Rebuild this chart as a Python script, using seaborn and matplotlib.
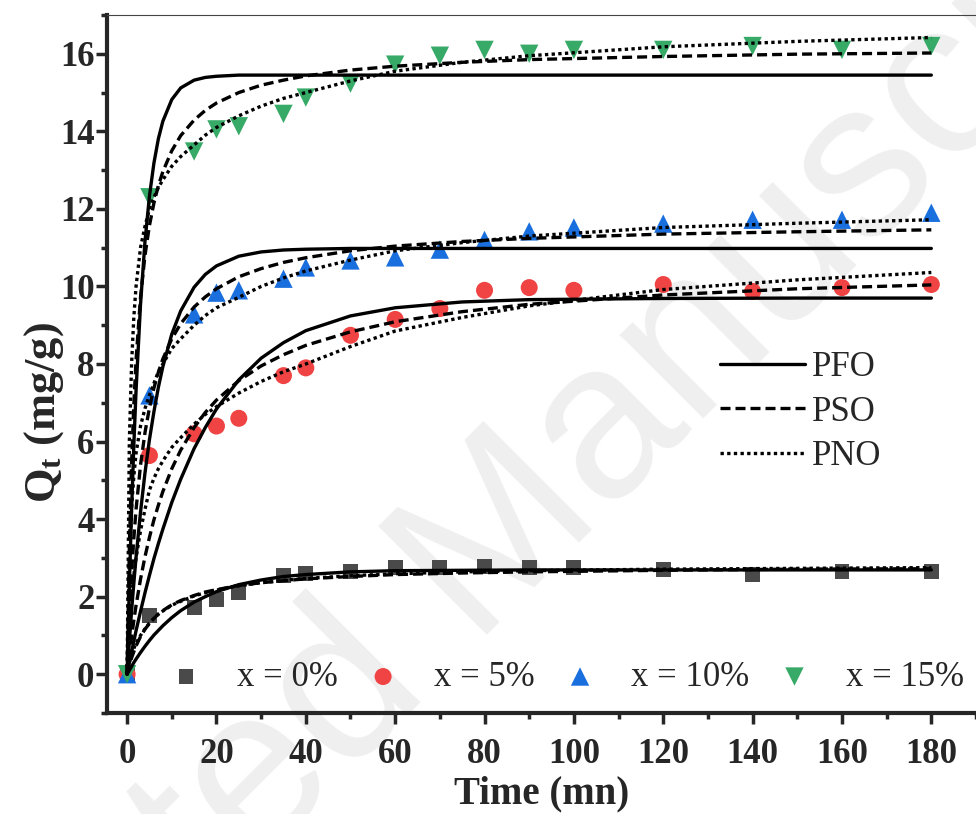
import numpy as np
import pandas as pd
import matplotlib
matplotlib.use('Agg')
import matplotlib.pyplot as plt
from matplotlib.ticker import MultipleLocator
import seaborn as sns

# experimental points
time = [0, 5, 15, 20, 25, 35, 40, 50, 60, 70, 80, 90, 100, 120, 140, 160, 180]
q0 = [0, 1.52, 1.73, 1.93, 2.11, 2.55, 2.60, 2.65, 2.76, 2.76, 2.78, 2.76, 2.76, 2.70, 2.58, 2.65, 2.65]
q5 = [0, 5.64, 6.20, 6.40, 6.60, 7.70, 7.90, 8.74, 9.15, 9.43, 9.90, 9.97, 9.90, 10.05, 9.87, 9.97, 10.05]
q10 = [0, 7.19, 9.28, 9.84, 9.90, 10.20, 10.49, 10.67, 10.75, 10.95, 11.20, 11.42, 11.52, 11.62, 11.72, 11.72, 11.90]
q15 = [0, 12.30, 13.48, 14.05, 14.13, 14.45, 14.87, 15.23, 15.72, 15.95, 16.10, 16.00, 16.10, 16.10, 16.20, 16.10, 16.20]

# fitted curves
t_fit = [0, 0.5, 1, 1.5, 2, 3, 4, 5, 6, 7, 8, 10, 12, 15, 17.5, 20, 25, 30, 35, 40, 50, 60, 75, 90, 120, 150, 180]
pfo0 = [0, 0.10, 0.20, 0.30, 0.39, 0.56, 0.72, 0.87, 1.01, 1.13, 1.25, 1.46, 1.64, 1.86, 2.00, 2.13,
        2.31, 2.43, 2.52, 2.57, 2.64, 2.67, 2.68, 2.69, 2.69, 2.69, 2.69]
pso0 = [0, 0.23, 0.42, 0.58, 0.73, 0.97, 1.16, 1.31, 1.44, 1.55, 1.64, 1.79, 1.90, 2.03, 2.12, 2.18,
        2.29, 2.36, 2.41, 2.46, 2.52, 2.57, 2.61, 2.64, 2.68, 2.71, 2.72]
pno0 = [0, 0.30, 0.50, 0.66, 0.80, 1.00, 1.17, 1.32, 1.44, 1.55, 1.63, 1.78, 1.88, 2.02, 2.10, 2.17,
        2.28, 2.36, 2.42, 2.47, 2.54, 2.59, 2.64, 2.67, 2.71, 2.73, 2.75]
pfo5 = [0, 0.29, 0.57, 0.85, 1.12, 1.62, 2.10, 2.55, 2.98, 3.37, 3.74, 4.43, 5.03, 5.82, 6.36, 6.84,
        7.59, 8.15, 8.55, 8.86, 9.24, 9.45, 9.60, 9.66, 9.69, 9.70, 9.70]
pso5 = [0, 0.50, 0.96, 1.38, 1.77, 2.45, 3.03, 3.53, 3.98, 4.36, 4.71, 5.30, 5.78, 6.36, 6.75, 7.07,
        7.57, 7.95, 8.24, 8.48, 8.83, 9.09, 9.35, 9.54, 9.78, 9.94, 10.04]
pno5 = [0, 1.20, 2.00, 2.55, 3.00, 3.70, 4.25, 4.75, 5.05, 5.30, 5.50, 5.85, 6.10, 6.45, 6.70, 6.90,
        7.25, 7.55, 7.80, 8.00, 8.45, 8.85, 9.20, 9.50, 9.92, 10.17, 10.36]
pfo10 = [0, 0.84, 1.63, 2.34, 3.01, 4.18, 5.19, 6.05, 6.77, 7.40, 7.93, 8.77, 9.37, 9.98, 10.31, 10.53,
         10.78, 10.89, 10.94, 10.96, 10.98, 10.98, 10.98, 10.98, 10.98, 10.98, 10.98]
pso10 = [0, 1.46, 2.60, 3.50, 4.25, 5.39, 6.23, 6.87, 7.38, 7.79, 8.13, 8.65, 9.04, 9.47, 9.73, 9.94,
         10.25, 10.46, 10.62, 10.74, 10.92, 11.04, 11.16, 11.24, 11.35, 11.41, 11.46]
pno10 = [0, 2.80, 4.30, 5.10, 5.70, 6.40, 6.85, 7.20, 7.50, 7.80, 8.00, 8.40, 8.65, 9.00, 9.25, 9.45,
         9.72, 10.00, 10.22, 10.40, 10.68, 10.92, 11.13, 11.30, 11.52, 11.63, 11.72]
pfo15 = [0, 2.28, 4.23, 5.89, 7.31, 9.53, 11.16, 12.33, 13.18, 13.81, 14.26, 14.82, 15.12, 15.32, 15.39, 15.42,
         15.45, 15.45, 15.45, 15.45, 15.45, 15.45, 15.45, 15.45, 15.45, 15.45, 15.45]
pso15 = [0, 3.24, 5.40, 6.94, 8.10, 9.72, 10.80, 11.57, 12.15, 12.60, 12.96, 13.50, 13.89, 14.29, 14.54, 14.73,
         15.00, 15.19, 15.32, 15.43, 15.58, 15.68, 15.78, 15.85, 15.93, 15.99, 16.02]
pno15 = [0, 6.00, 8.00, 9.20, 10.00, 11.00, 11.55, 12.00, 12.30, 12.55, 12.75, 13.10, 13.35, 13.65, 13.90, 14.10,
         14.40, 14.65, 14.85, 15.00, 15.30, 15.55, 15.78, 15.95, 16.18, 16.32, 16.42]

labels = ['x = 0%', 'x = 5%', 'x = 10%', 'x = 15%']
colors = ['#4a4a4a', '#f04444', '#1a6fdf', '#37aa68']
markers = ['s', 'o', '^', 'v']
sizes = [115, 150, 175, 175]

sns.set_style('ticks')
plt.rcParams['font.family'] = ['Liberation Serif', 'DejaVu Serif']
plt.rcParams['mathtext.fontset'] = 'custom'
plt.rcParams['mathtext.rm'] = 'Liberation Serif'
plt.rcParams['mathtext.bf'] = 'Liberation Serif:bold'
plt.rcParams['mathtext.it'] = 'Liberation Serif:italic'

fig = plt.figure(figsize=(9.76, 8.14), dpi=100)
# watermark behind the axes
fig.text(0.48, 0.297, 'Accepted Manuscript', rotation=45, ha='center', va='center',
         fontsize=160, color='#efefef', family='Liberation Sans', zorder=-1)

ax = fig.add_axes([107/976, 1 - 713/814, 1 - 107/976, (713 - 15)/814])
ax.patch.set_alpha(0)

# scatter points
for q, lab, c, m, s in zip([q0, q5, q10, q15], labels, colors, markers, sizes):
    sns.scatterplot(x=time, y=q, marker=m, color=c, s=s, edgecolor='none',
                    label=lab, ax=ax, zorder=3, legend=False)

# model lines
styles = {'PFO': '-', 'PSO': (0, (3, 1.5)), 'PNO': (0, (1, 1))}
fits = [(pfo0, pso0, pno0), (pfo5, pso5, pno5), (pfo10, pso10, pno10), (pfo15, pso15, pno15)]
line_handles = []
for i, (pfo, pso, pno) in enumerate(fits):
    for name, yy in zip(['PFO', 'PSO', 'PNO'], [pfo, pso, pno]):
        sns.lineplot(x=t_fit, y=yy, color='black', linestyle=styles[name], lw=2.4,
                     ax=ax, zorder=4, label=name if i == 0 else '_nolegend_')
        if i == 0:
            line_handles.append(ax.lines[-1])

ax.set_xlim(-4.5, 190)
ax.set_ylim(-1, 17)
ax.xaxis.set_major_locator(MultipleLocator(20))
ax.xaxis.set_minor_locator(MultipleLocator(10))
ax.yaxis.set_major_locator(MultipleLocator(2))
ax.yaxis.set_minor_locator(MultipleLocator(1))
ax.tick_params(which='major', direction='out', length=8, width=2.5, labelsize=25)
ax.tick_params(which='minor', direction='out', length=4, width=2.5)
ax.tick_params(axis='x', pad=10)
ax.tick_params(axis='y', pad=1)
for lab in ax.get_xticklabels() + ax.get_yticklabels():
    lab.set_fontweight('bold')

for side in ['left', 'bottom']:
    ax.spines[side].set_linewidth(3)
ax.spines['right'].set_visible(False)
ax.spines['top'].set_linewidth(0.8)
ax.spines['top'].set_color('#444444')

ax.set_xlabel('Time (mn)', fontsize=28, fontweight='bold', labelpad=3)
ax.set_ylabel(r'$\mathbf{Q_t}$ (mg/g)', fontsize=32, fontweight='bold')
ax.yaxis.set_label_coords(-0.047, 0.43)

# legends
leg1 = ax.legend(handles=line_handles, labels=['PFO', 'PSO', 'PNO'], loc='upper left',
                 bbox_to_anchor=(0.7055, 0.518), frameon=False, fontsize=25,
                 handlelength=2.45, handletextpad=0.2, labelspacing=0.32,
                 borderpad=0, borderaxespad=0)
ax.add_artist(leg1)
sc_handles = ax.collections[:4]
ax.legend(handles=sc_handles, labels=labels, loc='upper left', ncol=4,
          bbox_to_anchor=(0.061, 0.075), frameon=False, fontsize=25,
          handlelength=1.5, handletextpad=0.72, columnspacing=0.55,
          borderpad=0, borderaxespad=0)

plt.savefig('out.png', dpi=100)
